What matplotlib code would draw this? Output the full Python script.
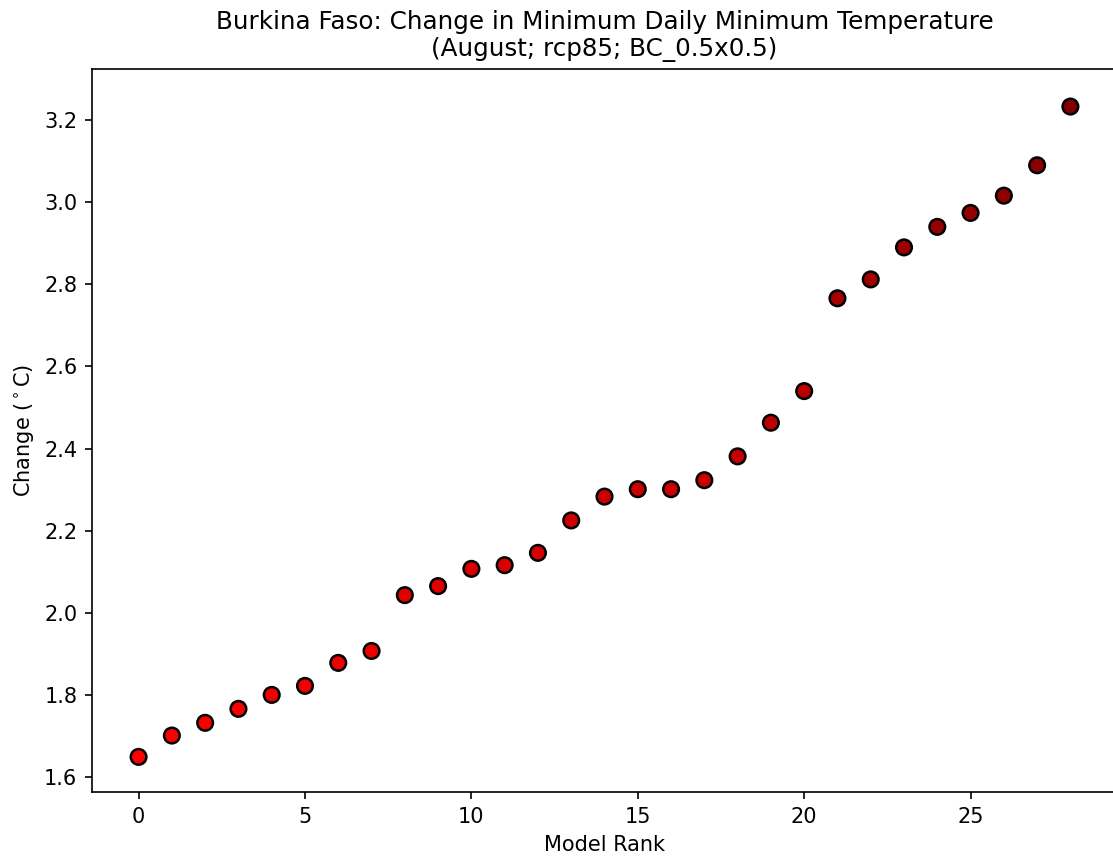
import numpy as np
import matplotlib
matplotlib.use('Agg')
import matplotlib.pyplot as plt
from matplotlib.colors import LinearSegmentedColormap

# Cambio ordenado por rango del modelo
rango = list(range(29))
cambio = [1.649, 1.701, 1.732, 1.766, 1.800, 1.822, 1.878, 1.907,
          2.043, 2.065, 2.107, 2.116, 2.146, 2.225, 2.283, 2.301,
          2.301, 2.323, 2.381, 2.463, 2.540, 2.766, 2.812, 2.890,
          2.940, 2.974, 3.016, 3.090, 3.233]

titulo = "Burkina Faso: Change in Minimum Daily Minimum Temperature\n(August; rcp85; BC_0.5x0.5)"

cmap = LinearSegmentedColormap.from_list('rojos', ['#ff0000', '#800000'])

fig = plt.figure(figsize=(1113 / 150, 861 / 150), dpi=150)
ax = fig.add_axes([92 / 1113, 69 / 861, 1025 / 1113, 723 / 861])

ax.scatter(rango, cambio, c=cambio, cmap=cmap, s=56,
           edgecolors='black', linewidths=1.2, zorder=3)

ax.set_xlabel('Model Rank')
ax.set_ylabel(r'Change ($^\circ$C)')
ax.set_title(titulo, fontsize=11.8)
ax.set_yticks(np.arange(1.6, 3.21, 0.2))
ax.set_xticks([0, 5, 10, 15, 20, 25])
ax.set_xlim(-1.4, 29.4)
ax.set_ylim(1.5635, 3.3245)

fig.savefig('out.png', dpi=150)
